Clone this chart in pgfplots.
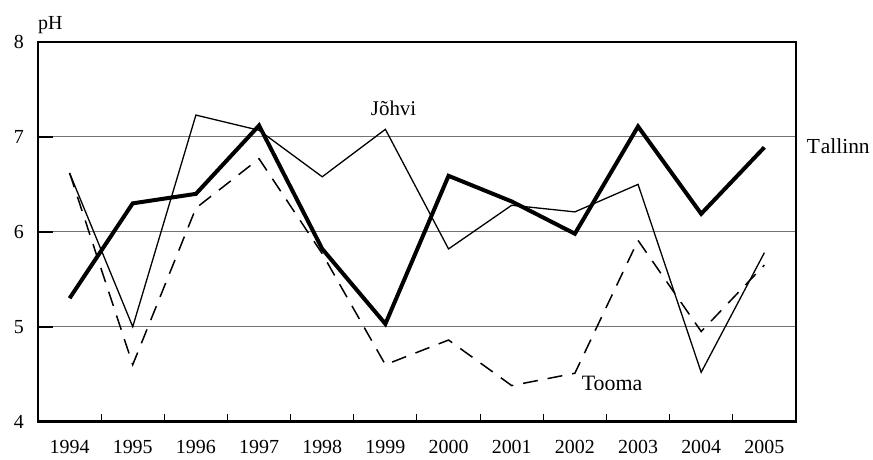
\documentclass[border=0pt]{standalone}
\usepackage{fontspec}
\setmainfont{Liberation Serif}
\usepackage{pgfplots}
\pgfplotsset{compat=1.18}
\begin{document}
\begin{tikzpicture}
\begin{axis}[
    name=ax,
    scale only axis,
    width=758bp, height=379.7bp,
    xmin=-0.5, xmax=11.5,
    ymin=4, ymax=8,
    clip=false,
    axis line style={line width=2.6bp},
    xtick={0,...,11},
    xticklabels={1994,1995,1996,1997,1998,1999,2000,2001,2002,2003,2004,2005},
    minor xtick={0.5,1.5,...,10.5},
    ytick={4,5,6,7,8},
    ymajorgrids,
    grid style={black!55, line width=1bp},
    tick pos=left,
    tick align=inside,
    major tick length=15bp,
    minor tick length=8bp,
    major x tick style={draw=none},
    minor x tick style={black, line width=1bp},
    y tick style={black, line width=2bp},
    /pgf/number format/assume math mode=true,
    every tick label/.append style={font=\fontsize{20}{24}\selectfont, inner sep=0pt},
    xticklabel style={anchor=north, yshift=-18bp},
    yticklabel style={anchor=east, xshift=-14bp},
]
% Jõhvi
\addplot[black, line width=1.3bp] coordinates {
    (0,6.62) (1,5.00) (2,7.23) (3,7.07) (4,6.58) (5,7.08)
    (6,5.82) (7,6.28) (8,6.21) (9,6.50) (10,4.52) (11,5.78)};
% Tooma
\addplot[black, line width=1.5bp, dash pattern=on 15bp off 10bp] coordinates {
    (0,6.62) (1,4.60) (2,6.25) (3,6.77) (4,5.77) (5,4.60)
    (6,4.86) (7,4.38) (8,4.51) (9,5.91) (10,4.95) (11,5.65)};
% Tallinn
\addplot[black, line width=4bp] coordinates {
    (0,5.30) (1,6.30) (2,6.40) (3,7.12) (4,5.82) (5,5.03)
    (6,6.59) (7,6.32) (8,5.98) (9,7.11) (10,6.19) (11,6.89)};
\node[font=\fontsize{21}{25}\selectfont] at (axis cs:5.13,7.30) {Jõhvi};
\node[font=\fontsize{21.5}{25}\selectfont] at (axis cs:12.17,6.90) {T\kern1bp allinn};
\node[font=\fontsize{22}{26}\selectfont] at (axis cs:8.59,4.40) {Tooma};
\node[font=\fontsize{20}{24}\selectfont, anchor=base west, inner sep=0pt, yshift=12.7bp]
    at (rel axis cs:0,1) {pH};
\end{axis}
\path ([shift={(-38bp,42bp)}]ax.north west) rectangle ([shift={(77bp,-38.3bp)}]ax.south east);
\end{tikzpicture}
\end{document}
